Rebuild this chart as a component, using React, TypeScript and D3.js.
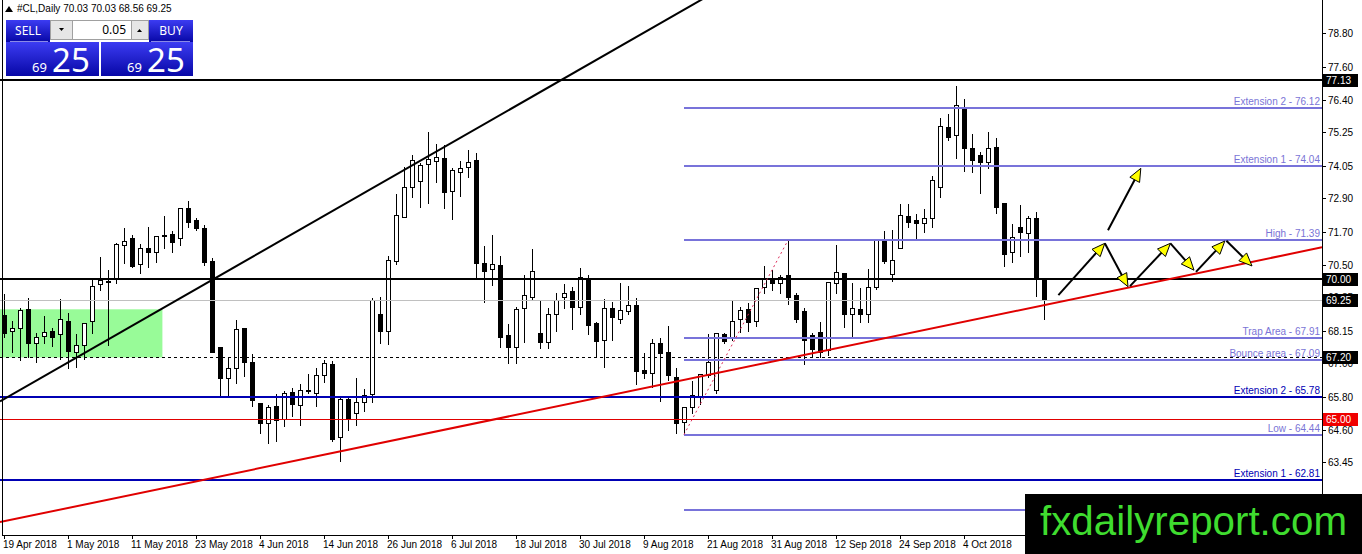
import React, { useEffect, useRef } from "react";
import * as d3 from "d3";

// daily bars of #CL, 19 Apr 2018 .. 18 Oct 2018
const OPEN = [
  68.71, 68.14, 68.24, 68.92, 67.7, 67.98, 68.15, 68.03, 68.51, 67.4, 67.64, 68.51, 69.82, 69.9, 69.99, 71.22,
  71.46, 70.54, 71.13, 70.98, 71.56, 71.6, 71.46, 72.53, 72.11, 71.81, 70.64, 67.56, 66.45, 66.81, 68.24, 67.04,
  65.58, 64.84, 65.46, 64.98, 65.96, 65.49, 66.0, 65.94, 66.57, 66.98, 64.34, 65.73, 65.2, 65.6, 65.9, 68.75,
  68.15, 70.66, 72.23, 73.3, 73.52, 74.11, 74.21, 74.32, 73.16, 73.84, 74.02, 74.26, 70.56, 70.35, 70.5, 68.0,
  67.58, 68.95, 69.37, 68.06, 67.76, 68.75, 69.35, 69.58, 68.99, 69.99, 68.44, 67.84, 68.95, 68.59, 68.87, 69.07,
  66.75, 66.65, 67.7, 67.4, 66.51, 64.9, 65.41, 65.82, 66.57, 66.05, 68.03, 67.88, 68.56, 68.92, 68.51, 69.7,
  69.99, 69.87, 70.14, 69.43, 68.85, 68.0, 68.12, 67.45, 69.85, 70.21, 68.75, 68.92, 68.77, 69.7, 71.37, 70.2,
  71.13, 72.26, 72.11, 71.99, 72.17, 73.28, 75.45, 75.15, 76.14, 74.68, 74.44, 74.2, 74.73, 72.71, 70.98, 71.87,
  71.66, 72.17, 70.03,
];
const HIGH = [
  69.49, 68.53, 69.01, 69.35, 68.12, 68.71, 68.3, 69.31, 68.83, 68.08, 68.47, 70.03, 70.82, 70.35, 71.34, 71.85,
  71.63, 71.28, 71.9, 71.57, 72.29, 71.75, 72.59, 72.83, 72.21, 71.97, 70.78, 67.58, 67.22, 68.59, 68.27, 67.34,
  65.58, 65.53, 65.91, 66.03, 66.15, 66.27, 66.63, 66.87, 67.16, 67.1, 65.79, 65.85, 66.5, 66.1, 69.35, 69.39,
  70.86, 73.09, 74.04, 74.47, 74.2, 75.29, 74.88, 74.83, 74.02, 74.26, 74.67, 74.56, 71.22, 71.63, 70.86, 68.42,
  69.04, 70.18, 71.1, 69.27, 69.01, 69.55, 69.87, 69.75, 70.42, 70.2, 68.51, 69.31, 69.21, 69.91, 69.79, 69.35,
  67.4, 67.88, 67.92, 68.36, 66.87, 65.46, 66.39, 66.63, 68.06, 68.12, 68.12, 69.27, 69.04, 69.19, 69.73, 70.5,
  70.35, 70.2, 71.39, 69.55, 69.0, 68.1, 68.51, 69.95, 71.25, 70.26, 69.91, 69.7, 70.38, 71.46, 71.75, 71.78,
  72.73, 72.73, 72.35, 72.56, 73.72, 75.81, 75.93, 76.94, 76.46, 75.21, 74.59, 75.31, 75.09, 72.73, 71.99, 72.68,
  72.29, 72.45, 70.03,
];
const LOW = [
  67.94, 67.4, 67.1, 67.22, 67.04, 67.7, 67.61, 67.16, 66.81, 66.87, 67.16, 68.08, 69.61, 67.64, 69.85, 70.56,
  70.42, 70.23, 70.42, 70.62, 71.1, 70.98, 71.22, 71.87, 71.75, 70.5, 67.38, 65.79, 65.85, 66.29, 66.53, 65.46,
  64.51, 64.15, 64.22, 64.74, 65.1, 64.78, 65.91, 65.46, 66.33, 64.22, 63.5, 64.6, 64.8, 65.3, 65.6, 67.72,
  67.68, 70.54, 72.21, 72.92, 72.59, 72.73, 73.48, 72.53, 72.14, 72.97, 73.66, 70.02, 69.19, 69.79, 67.58, 66.99,
  66.99, 67.76, 69.25, 67.52, 67.52, 68.15, 68.95, 68.2, 68.77, 68.03, 67.25, 66.87, 67.82, 68.44, 68.77, 66.25,
  66.45, 66.15, 65.65, 66.41, 64.5, 64.44, 65.22, 65.55, 66.51, 65.94, 67.7, 67.82, 68.12, 68.15, 68.32, 69.49,
  69.61, 69.51, 69.11, 68.47, 66.98, 67.2, 67.2, 67.3, 69.49, 68.3, 67.88, 68.48, 68.48, 69.63, 70.59, 69.94,
  71.1, 71.87, 71.42, 71.69, 71.87, 72.95, 74.97, 74.32, 73.88, 73.84, 73.07, 73.98, 72.37, 70.47, 70.62, 70.82,
  70.98, 69.39, 68.56,
];
const CLOSE = [
  68.06, 68.24, 68.89, 67.7, 67.94, 68.12, 67.94, 68.56, 67.44, 67.64, 68.44, 69.75, 69.97, 69.95, 71.25, 71.37,
  70.47, 71.13, 70.98, 71.54, 71.58, 71.34, 72.56, 72.05, 71.81, 70.62, 67.4, 66.45, 66.81, 68.2, 67.04, 65.67,
  64.84, 65.43, 64.96, 65.91, 65.53, 66.03, 66.03, 66.57, 67.01, 64.27, 65.73, 64.98, 65.6, 65.85, 69.27, 68.15,
  70.68, 72.29, 73.28, 74.26, 74.08, 74.28, 74.35, 73.12, 73.9, 73.99, 74.2, 70.59, 70.3, 70.54, 67.94, 67.56,
  68.92, 69.43, 70.29, 67.76, 68.75, 69.25, 69.51, 68.99, 70.06, 68.36, 67.79, 68.95, 68.63, 68.89, 69.07, 66.72,
  66.65, 67.7, 67.37, 66.57, 64.84, 65.43, 65.84, 66.6, 67.04, 68.08, 67.79, 68.51, 68.89, 68.47, 69.67, 69.99,
  69.87, 70.08, 69.35, 68.59, 67.84, 67.5, 67.4, 69.9, 70.26, 68.77, 68.95, 68.75, 69.7, 71.42, 70.66, 70.7,
  72.29, 72.05, 72.02, 72.17, 73.54, 75.47, 75.07, 76.23, 74.68, 74.26, 74.2, 74.68, 72.59, 70.9, 71.49, 71.69,
  72.17, 69.99, 69.25,
];

const DATE_BARS = [0, 8, 16, 24, 32, 40, 48, 56, 64, 72, 80, 88, 96, 104, 112, 120];
const DATE_LABELS = [
  "19 Apr 2018", "1 May 2018", "11 May 2018", "23 May 2018", "4 Jun 2018", "14 Jun 2018", "26 Jun 2018",
  "6 Jul 2018", "18 Jul 2018", "30 Jul 2018", "9 Aug 2018", "21 Aug 2018", "31 Aug 2018", "12 Sep 2018",
  "24 Sep 2018", "4 Oct 2018",
];
const PRICE_TICKS = [78.8, 77.6, 76.4, 75.25, 74.05, 72.9, 71.7, 70.5, 69.35, 68.15, 67.0, 65.8, 64.6, 63.45];

// drawn objects
const RESISTANCE = [77.13, 70.0];
const BID = 69.25;
const BOUNCE_DASH = 67.2;
const RED_LEVEL = 65.0;
const BLUE_NAMES = ["Extension 2", "Extension 1"];
const BLUE_PRICES = [65.78, 62.81];
const FIB_START_BAR = 85;
const FIB_NAMES = ["Extension 2", "Extension 1", "High", "Trap Area", "Bounce area", "Low", ""];
const FIB_PRICES = [76.12, 74.04, 71.39, 67.91, 67.09, 64.44, 61.74];
const BOX_BARS = [-0.5, 19.8];
const BOX_PRICES = [67.2, 68.92];
const BLACK_TREND = [[0, 65.71], [71, 77.34]];
const RED_TREND = [[0, 61.34], [130, 69.07]];
const FIB_LINK = [[85, 64.44], [98, 71.39]];
const ARROWS = [
  [[131.8, 69.43], [137.6, 71.28]],
  [[137.6, 71.28], [140.5, 69.73]],
  [[140.75, 69.75], [145.8, 71.28]],
  [[145.8, 71.28], [148.75, 70.32]],
  [[149, 70.26], [152.6, 71.36]],
  [[152.8, 71.37], [156, 70.47]],
  [[138, 71.75], [142.1, 73.96]],
];

const W = 1362;
const H = 554;
const PR = 1322; // plot right
const PB = 535; // plot bottom
const FONT = "Liberation Sans, Arial, sans-serif";

export default function App() {
  const svgRef = useRef<SVGSVGElement>(null);

  useEffect(() => {
    if (!svgRef.current) return;
    const svg = d3.select(svgRef.current);
    svg.selectAll("*").remove();

    const x = d3.scaleLinear().domain([-0.5, 164.75]).range([0, PR]);
    const y = d3.scaleLinear().domain([60.85, 79.98]).range([PB, 0]);
    const px = (v: number) => Math.round(x(v)) + 0.5;
    const py = (v: number) => Math.round(y(v)) + 0.5;

    svg.append("rect").attr("width", W).attr("height", H).attr("fill", "#fff");

    const defs = svg.append("defs");
    defs.append("clipPath").attr("id", "plot").append("rect").attr("width", PR).attr("height", PB);
    const grad = defs.append("linearGradient").attr("id", "btn").attr("x1", 0).attr("x2", 0).attr("y1", 0).attr("y2", 1);
    grad.append("stop").attr("offset", "0%").attr("stop-color", "#3c3cf2");
    grad.append("stop").attr("offset", "100%").attr("stop-color", "#0707a6");

    const g = svg.append("g").attr("clip-path", "url(#plot)");

    // green zone
    g.append("rect")
      .attr("x", x(BOX_BARS[0]))
      .attr("y", y(BOX_PRICES[1]))
      .attr("width", x(BOX_BARS[1]) - x(BOX_BARS[0]))
      .attr("height", y(BOX_PRICES[0]) - y(BOX_PRICES[1]))
      .attr("fill", "#98fb98");

    // candles
    const bars = d3.range(OPEN.length);
    const cg = g.append("g").attr("shape-rendering", "crispEdges");
    cg.selectAll("line.wick")
      .data(bars)
      .join("line")
      .attr("x1", (i) => px(i))
      .attr("x2", (i) => px(i))
      .attr("y1", (i) => py(HIGH[i]))
      .attr("y2", (i) => py(LOW[i]))
      .attr("stroke", "#000");
    cg.selectAll("rect.body")
      .data(bars)
      .join("rect")
      .attr("x", (i) => px(i) - 2)
      .attr("width", 4)
      .attr("y", (i) => py(Math.max(OPEN[i], CLOSE[i])))
      .attr("height", (i) => Math.max(1, py(Math.min(OPEN[i], CLOSE[i])) - py(Math.max(OPEN[i], CLOSE[i]))))
      .attr("fill", (i) => (CLOSE[i] >= OPEN[i] ? "#fff" : "#000"))
      .attr("stroke", "#000");

    const hline = (p: number, color: string, w: number, x0 = 0, dash?: string) => {
      const l = g.append("line")
        .attr("x1", x0).attr("x2", PR)
        .attr("y1", w % 2 ? py(p) : Math.round(y(p)))
        .attr("y2", w % 2 ? py(p) : Math.round(y(p)))
        .attr("stroke", color).attr("stroke-width", w)
        .attr("shape-rendering", "crispEdges");
      if (dash) l.attr("stroke-dasharray", dash);
    };

    hline(BID, "#c0c0c0", 1);
    hline(BOUNCE_DASH, "#000", 1, 0, "3,3");
    hline(RED_LEVEL, "#e00000", 1);
    RESISTANCE.forEach((p) => hline(p, "#000", 2));
    BLUE_PRICES.forEach((p) => hline(p, "#0000b4", 2));
    FIB_PRICES.forEach((p) => hline(p, "#7873da", 2, x(FIB_START_BAR)));

    // trend lines, extended across the plot
    const trend = (pts: number[][], color: string) => {
      const [[b0, p0], [b1, p1]] = pts;
      const k = (p1 - p0) / (b1 - b0);
      const a = -0.5;
      const b = 164.75;
      g.append("line")
        .attr("x1", x(a)).attr("y1", y(p0 + k * (a - b0)))
        .attr("x2", x(b)).attr("y2", y(p0 + k * (b - b0)))
        .attr("stroke", color).attr("stroke-width", 2);
    };
    trend(BLACK_TREND, "#000");
    trend(RED_TREND, "#e00000");

    g.append("line")
      .attr("x1", x(FIB_LINK[0][0])).attr("y1", y(FIB_LINK[0][1]))
      .attr("x2", x(FIB_LINK[1][0])).attr("y2", y(FIB_LINK[1][1]))
      .attr("stroke", "#dc2c5a").attr("stroke-width", 1).attr("stroke-dasharray", "2,3");

    // arrows
    ARROWS.forEach(([[b0, p0], [b1, p1]]) => {
      const x0 = x(b0), y0 = y(p0), x1 = x(b1), y1 = y(p1);
      const len = Math.hypot(x1 - x0, y1 - y0);
      const ux = (x1 - x0) / len, uy = (y1 - y0) / len;
      const hl = 13, hw = 5.5;
      const bx = x1 - ux * hl, by = y1 - uy * hl;
      g.append("line")
        .attr("x1", x0).attr("y1", y0).attr("x2", bx + ux * 2).attr("y2", by + uy * 2)
        .attr("stroke", "#000").attr("stroke-width", 2);
      g.append("path")
        .attr("d", `M${x1},${y1}L${bx - uy * hw},${by + ux * hw}L${bx + uy * hw},${by - ux * hw}Z`)
        .attr("fill", "#ffff00").attr("stroke", "#000").attr("stroke-width", 1);
    });

    // level captions
    FIB_PRICES.forEach((p, k) => {
      if (!FIB_NAMES[k]) return;
      g.append("text")
        .attr("x", PR - 2).attr("y", Math.round(y(p)) - 3)
        .attr("text-anchor", "end")
        .style("font", `10px ${FONT}`)
        .attr("fill", "#7a74d6")
        .text(`${FIB_NAMES[k]} - ${p.toFixed(2)}`);
    });
    BLUE_PRICES.forEach((p, k) => {
      g.append("text")
        .attr("x", PR - 2).attr("y", Math.round(y(p)) - 3)
        .attr("text-anchor", "end")
        .style("font", `10px ${FONT}`)
        .attr("fill", "#0000b4")
        .text(`${BLUE_NAMES[k]} - ${p.toFixed(2)}`);
    });

    // axes
    const ax = svg.append("g").attr("shape-rendering", "crispEdges");
    ax.append("line").attr("x1", PR + 0.5).attr("x2", PR + 0.5).attr("y1", 0).attr("y2", PB + 1).attr("stroke", "#000");
    ax.append("line").attr("x1", 2.5).attr("x2", 2.5).attr("y1", 0).attr("y2", PB + 1).attr("stroke", "#000");
    ax.append("line").attr("x1", 2).attr("x2", PR + 1).attr("y1", PB + 0.5).attr("y2", PB + 0.5).attr("stroke", "#000");

    PRICE_TICKS.forEach((p) => {
      ax.append("line").attr("x1", PR).attr("x2", PR + 4).attr("y1", py(p)).attr("y2", py(p)).attr("stroke", "#000");
      ax.append("text")
        .attr("x", PR + 6).attr("y", y(p) + 4)
        .style("font", `10px ${FONT}`).attr("fill", "#000")
        .text(p.toFixed(2));
    });

    DATE_BARS.forEach((b, k) => {
      ax.append("line").attr("x1", px(b)).attr("x2", px(b)).attr("y1", PB).attr("y2", PB + 4).attr("stroke", "#000");
      ax.append("text")
        .attr("x", x(b) - 1).attr("y", PB + 13)
        .style("font", `10px ${FONT}`).attr("fill", "#000")
        .text(DATE_LABELS[k]);
    });

    // price tags on the axis
    const tag = (p: number, bg: string) => {
      const cy = Math.round(y(p));
      svg.append("rect").attr("x", PR + 1).attr("y", cy - 6).attr("width", 35).attr("height", 13).attr("fill", bg);
      svg.append("text")
        .attr("x", PR + 4).attr("y", cy + 4)
        .style("font", `10px ${FONT}`).attr("fill", "#fff")
        .text(p.toFixed(2));
    };
    RESISTANCE.forEach((p) => tag(p, "#000"));
    tag(BID, "#000");
    tag(BOUNCE_DASH, "#000");
    tag(RED_LEVEL, "#f00000");

    // header
    const last = OPEN.length - 1;
    svg.append("path").attr("d", "M5,12L9,6L13,12Z").attr("fill", "#000");
    svg.append("text")
      .attr("x", 17).attr("y", 12)
      .style("font", `10px ${FONT}`).attr("fill", "#000")
      .text(`#CL,Daily  ${OPEN[last].toFixed(2)} ${HIGH[last].toFixed(2)} ${LOW[last].toFixed(2)} ${CLOSE[last].toFixed(2)}`);

    // one-click trading panel
    const panel = svg.append("g");
    const [small, big] = CLOSE[last].toFixed(2).split(".");
    panel.append("rect").attr("x", 6).attr("y", 20).attr("width", 44).attr("height", 22).attr("fill", "url(#btn)");
    panel.append("rect").attr("x", 149).attr("y", 20).attr("width", 44).attr("height", 22).attr("fill", "url(#btn)");
    panel.append("rect").attr("x", 6).attr("y", 42).attr("width", 93).attr("height", 34).attr("fill", "url(#btn)");
    panel.append("rect").attr("x", 101).attr("y", 42).attr("width", 92).attr("height", 34).attr("fill", "url(#btn)");
    panel.append("line").attr("x1", 10).attr("x2", 48).attr("y1", 41.5).attr("y2", 41.5).attr("stroke", "#8a8ae6");
    panel.append("line").attr("x1", 151).attr("x2", 190).attr("y1", 41.5).attr("y2", 41.5).attr("stroke", "#8a8ae6");
    panel.append("rect").attr("x", 50.5).attr("y", 20.5).attr("width", 22).attr("height", 19).attr("fill", "#e6e6e6").attr("stroke", "#a0a0a0");
    panel.append("rect").attr("x", 72.5).attr("y", 20.5).attr("width", 59).attr("height", 19).attr("fill", "#fff").attr("stroke", "#a0a0a0");
    panel.append("rect").attr("x", 131.5).attr("y", 20.5).attr("width", 17).attr("height", 19).attr("fill", "#e6e6e6").attr("stroke", "#a0a0a0");
    panel.append("path").attr("d", "M59,28L64,28L61.5,31Z").attr("fill", "#000");
    panel.append("path").attr("d", "M137,32L142,32L139.5,29Z").attr("fill", "#000");
    panel.append("text").attr("x", 126).attr("y", 34).attr("text-anchor", "end")
      .style("font", "12px Noto Sans, sans-serif").attr("fill", "#000").text("0.05");
    panel.append("text").attr("x", 28).attr("y", 35).attr("text-anchor", "middle")
      .style("font", "12px Noto Sans, sans-serif").attr("fill", "#fff").text("SELL");
    panel.append("text").attr("x", 171).attr("y", 35).attr("text-anchor", "middle")
      .style("font", "12px Noto Sans, sans-serif").attr("fill", "#fff").text("BUY");
    [[32, 52], [127, 147]].forEach(([sx, bx]) => {
      panel.append("text").attr("x", sx).attr("y", 72)
        .style("font", "13px Noto Sans, sans-serif").attr("fill", "#fff").text(small);
      panel.append("text").attr("x", bx).attr("y", 72)
        .style("font", "33px Noto Sans, sans-serif").attr("fill", "#fff").text(big);
    });

    // watermark
    svg.append("rect").attr("x", 1025).attr("y", 494).attr("width", W - 1025).attr("height", H - 494).attr("fill", "#000");
    svg.append("text")
      .attr("x", 1040).attr("y", 535)
      .attr("textLength", 307).attr("lengthAdjust", "spacingAndGlyphs")
      .style("font", "41px Liberation Sans, Arial, sans-serif")
      .attr("fill", "#3fdc2f")
      .text("fxdailyreport.com");
  }, []);

  return (
    <div style={{ position: "absolute", left: 0, top: 0 }}>
      <svg ref={svgRef} width={W} height={H} style={{ display: "block" }} />
    </div>
  );
}
